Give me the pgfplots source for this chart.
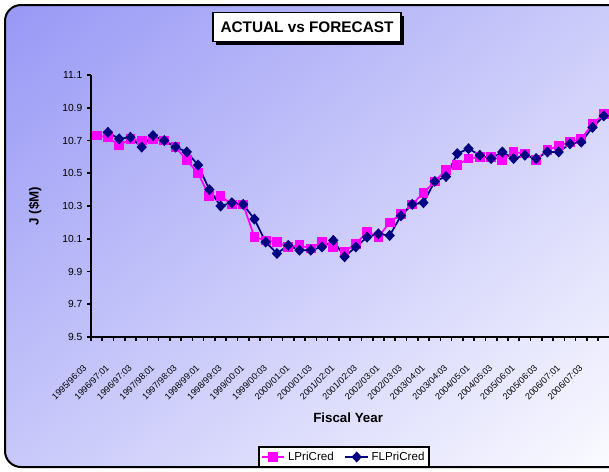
\documentclass[border=0pt]{standalone}
\usepackage{pgfplots}
\pgfplotsset{compat=1.18}
\usepackage{fontspec}
\setmainfont{Liberation Sans}
\usetikzlibrary{shadows,shadings}

\definecolor{actcol}{RGB}{255,0,255}
\definecolor{fcol}{RGB}{0,0,128}
\definecolor{bgul}{RGB}{152,152,246}
\definecolor{bgur}{RGB}{205,205,250}
\definecolor{bgll}{RGB}{200,200,250}
\definecolor{bglr}{RGB}{252,252,255}

\begin{document}
\begin{tikzpicture}[x=0.75pt,y=-0.75pt]
\useasboundingbox (0,0) rectangle (609,471);
% chart area with diagonal gradient and rounded frame
\shade[rounded corners=12, upper left=bgul, upper right=bgur,
  lower left=bgll, lower right=bglr]
  (5,5) rectangle (630,467);
\draw[line width=1.5pt, rounded corners=12] (5,5) rectangle (630,467);

\begin{axis}[
  at={(68.25pt,-252.75pt)}, anchor=south west,
  scale only axis, width=388.8pt, height=196.5pt,
  xmin=-0.5, xmax=45.5, ymin=9.5, ymax=11.1,
  axis x line*=bottom, axis y line*=left,
  axis line style={line width=1.5pt, -},
  every tick/.style={black, line width=1.2pt},
  tick align=outside, major tick length=3pt,
  ytick={9.5,9.7,9.9,10.1,10.3,10.5,10.7,10.9,11.1},
  yticklabel style={/pgf/number format/fixed, /pgf/number format/fixed zerofill,
    /pgf/number format/precision=1, font=\fontsize{7.7}{8}\selectfont},
  /pgf/number format/assume math mode=true,
  xtick={-0.5,0.5,...,45.5}, xticklabels={},
  extra x ticks={0,2,...,44},
  extra x tick labels={1995/96:03,1996/97:01,1996/97:03,1997/98:01,1997/98:03,1998/99:01,1998/99:03,1999/00:01,1999/00:03,2000/01:01,2000/01:03,2001/02:01,2001/02:03,2002/03:01,2002/03:03,2003/04:01,2003/04:03,2004/05:01,2004/05:03,2005/06:01,2005/06:03,2006/07:01,2006/07:03},
  % shifts are given before the rotation so they act in the page frame
  extra x tick style={major tick length=0pt,
    xticklabel style={xshift=-10.5pt, yshift=-20pt, rotate=45, anchor=north east, inner sep=0pt,
      font=\fontsize{6.7}{8}\selectfont}},
  xlabel={\bfseries Fiscal Year},
  xlabel style={at={(axis description cs:0.496,-0.309)}, anchor=center, font=\fontsize{10}{12}\selectfont},
  ylabel={\bfseries J (\$M)},
  ylabel style={at={(axis description cs:-0.108,0.5)}, anchor=center, font=\fontsize{10}{12}\selectfont},
  legend columns=2,
  legend style={at={(axis description cs:0.488,-0.458)}, anchor=center,
    draw=black, line width=1.2pt, fill=white, font=\fontsize{8.7}{10}\selectfont,
    inner sep=1.5pt, /tikz/every even column/.append style={column sep=6pt}},
  legend cell align=left,
]
\addplot[actcol, line width=1.3pt, mark=square*, mark size=3pt,
  mark options={solid, fill=actcol, draw=actcol}]
  coordinates {
  (0,10.73) (1,10.72) (2,10.67) (3,10.71) (4,10.70) (5,10.71) (6,10.70) (7,10.66)
  (8,10.58) (9,10.50) (10,10.36) (11,10.36) (12,10.31) (13,10.31) (14,10.11) (15,10.09)
  (16,10.08) (17,10.05) (18,10.06) (19,10.04) (20,10.08) (21,10.05) (22,10.02) (23,10.07)
  (24,10.14) (25,10.11) (26,10.20) (27,10.25) (28,10.31) (29,10.38) (30,10.45) (31,10.52)
  (32,10.55) (33,10.59) (34,10.60) (35,10.60) (36,10.58) (37,10.63) (38,10.62) (39,10.58)
  (40,10.64) (41,10.67) (42,10.69) (43,10.71) (44,10.80) (45,10.86)};
\addlegendentry{LPriCred}
\addplot[fcol, line width=1.3pt, mark=diamond*, mark size=3.2pt,
  mark options={solid, fill=fcol, draw=fcol, xscale=1.25}]
  coordinates {
  (1,10.75) (2,10.71) (3,10.72) (4,10.66) (5,10.73) (6,10.70) (7,10.66)
  (8,10.63) (9,10.55) (10,10.40) (11,10.30) (12,10.32) (13,10.31) (14,10.22) (15,10.08)
  (16,10.01) (17,10.06) (18,10.03) (19,10.03) (20,10.05) (21,10.09) (22,9.99) (23,10.05)
  (24,10.11) (25,10.13) (26,10.12) (27,10.24) (28,10.31) (29,10.32) (30,10.45) (31,10.48)
  (32,10.62) (33,10.65) (34,10.61) (35,10.59) (36,10.63) (37,10.59) (38,10.61) (39,10.59)
  (40,10.63) (41,10.63) (42,10.68) (43,10.69) (44,10.78) (45,10.85)};
\addlegendentry{FLPriCred}
\end{axis}

% chart title in a framed box with a shadow
\node[draw=black, line width=1.2pt, fill=white, minimum width=141pt, minimum height=22pt,
  inner sep=0pt, drop shadow={shadow xshift=2.5pt, shadow yshift=-2.5pt, fill=black, opacity=1},
  font=\fontsize{11.5}{13}\selectfont\bfseries] at (307,27) {ACTUAL vs FORECAST};
\end{tikzpicture}
\end{document}
